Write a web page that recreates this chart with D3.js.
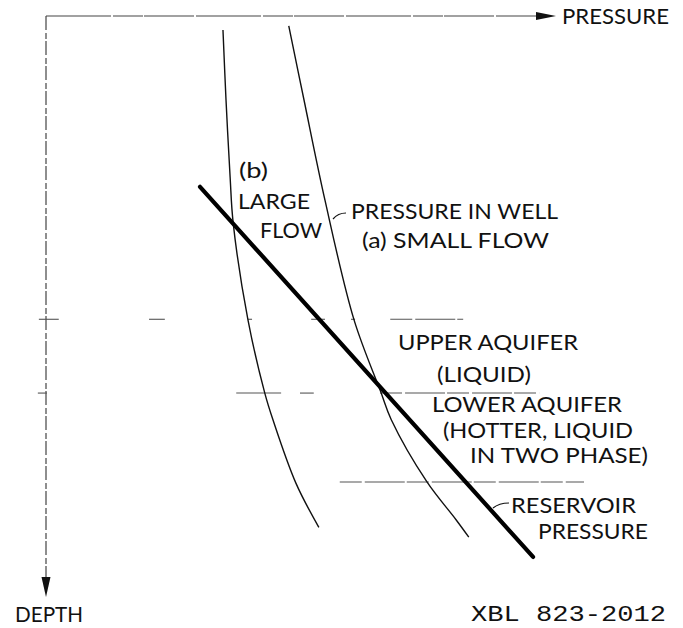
<!DOCTYPE html>
<html><head><meta charset="utf-8">
<script src="https://cdn.jsdelivr.net/npm/d3@7"></script>
<style>html,body{margin:0;padding:0;background:#fff;}svg{display:block;}</style>
</head><body><div id="chart"></div>
<script>
// ---- data (pressure / depth in relative units, 0..100 along each axis) ----
const pressureA = [47.6, 50.6, 54.7, 60.4, 65.6, 67.7, 74.7, 80.4, 82.9]; // (a) small flow
const depthA    = [1.7, 14.5, 31.7, 52.3, 64.6, 69.5, 80.2, 86.7, 89.7];
const pressureB = [34.7, 35.3, 36.1, 36.7, 39.6, 42.9, 44.5, 49.0, 53.5]; // (b) large flow
const depthB    = [2.4, 14.5, 27.7, 35.6, 52.3, 64.9, 69.5, 80.4, 88.0];
const reservoirPressure = [30.2, 95.5];
const reservoirDepth    = [29.4, 93.1];
const boundaryDepths = [52.2, 64.9, 80.2];
const boundarySegments = [
  [[-1.4, 2.5], [20.2, 23.3], [39.6, 40.4], [52.0, 54.7], [59.8, 60.6], [67.5, 81.8]],
  [[-1.6, 0.2], [37.3, 46.1], [49.8, 52.5], [65.5, 96.7]],
  [[57.6, 105.5]]
];
const labels = ["PRESSURE", "DEPTH", "(b)", "LARGE", "FLOW", "PRESSURE IN WELL", "(a) SMALL FLOW",
  "UPPER AQUIFER", "(LIQUID)", "LOWER AQUIFER", "(HOTTER, LIQUID", "IN TWO PHASE)", "RESERVOIR", "PRESSURE", "XBL 823-2012"];

// ---- drawing ----
const W = 683, H = 628;
const svg = d3.select("#chart").append("svg").attr("width", W).attr("height", H);
const x = d3.scaleLinear().domain([0, 100]).range([46, 556]);
const y = d3.scaleLinear().domain([0, 100]).range([16, 597]);

// axes
svg.append("line").attr("x1", x(0)).attr("y1", y(0)).attr("x2", x(100) - 18).attr("y2", y(0))
  .attr("stroke", "#444").attr("stroke-width", 1.2).attr("stroke-dasharray", "65,2,30,1,50,2");
svg.append("path").attr("d", `M${x(100)},${y(0)} L${x(100)-20},${y(0)-4} L${x(100)-20},${y(0)+4} Z`).attr("fill", "#111");
svg.append("line").attr("x1", x(0)).attr("y1", y(0)).attr("x2", x(0)).attr("y2", y(100) - 16)
  .attr("stroke", "#444").attr("stroke-width", 1.2).attr("stroke-dasharray", "14,3,6,2");
svg.append("path").attr("d", `M${x(0)},${y(100)} L${x(0)-4.5},${y(100)-20} L${x(0)+4.5},${y(100)-20} Z`).attr("fill", "#111");

// boundary lines
boundaryDepths.forEach((d, i) => {
  boundarySegments[i].forEach(s => {
    svg.append("line").attr("x1", x(s[0])).attr("x2", x(s[1])).attr("y1", y(d)).attr("y2", y(d))
      .attr("stroke", "#555").attr("stroke-width", 1.1)
      .attr("stroke-dasharray", (s[1] - s[0]) > 10 ? "22,3,40,2" : null);
  });
});

const line = d3.line().x(d => x(d[0])).y(d => y(d[1])).curve(d3.curveCatmullRom);
svg.append("path").attr("d", line(d3.zip(pressureA, depthA))).attr("fill", "none").attr("stroke", "#111").attr("stroke-width", 1.4);
svg.append("path").attr("d", line(d3.zip(pressureB, depthB))).attr("fill", "none").attr("stroke", "#111").attr("stroke-width", 1.4);
svg.append("path").attr("d", d3.line().x(d => x(d[0])).y(d => y(d[1]))(d3.zip(reservoirPressure, reservoirDepth)))
  .attr("fill", "none").attr("stroke", "#000").attr("stroke-width", 4.2).attr("stroke-linecap", "round");

// leaders
svg.append("path").attr("d", "M333,219 Q338,213 346,213").attr("fill", "none").attr("stroke", "#111").attr("stroke-width", 1.2);
svg.append("path").attr("d", "M493,508 Q499,503 509,503").attr("fill", "none").attr("stroke", "#111").attr("stroke-width", 1.2);

// labels: [x, baseline, width]
const pos = [[562,24,107],[15,622,68],[239,178,29],[238,209,72],[260,238,62],[351,219,207],[362,248,187],
  [398,350,180],[437,382,94],[432,412,190],[443,438,190],[470,463,178],[511,513,125],[538,539,110],[471,621,195]];
labels.forEach((t, i) => {
  const mono = t.startsWith("XBL");
  svg.append("text").attr("x", pos[i][0]).attr("y", pos[i][1])
    .attr("textLength", pos[i][2]).attr("lengthAdjust", "spacingAndGlyphs")
    .attr("font-family", mono ? "'Liberation Mono', 'DejaVu Sans Mono', monospace" : "Lato, 'Open Sans', sans-serif")
    .attr("font-size", mono ? 22 : 21).attr("fill", "#111").text(t);
});
</script></body></html>
